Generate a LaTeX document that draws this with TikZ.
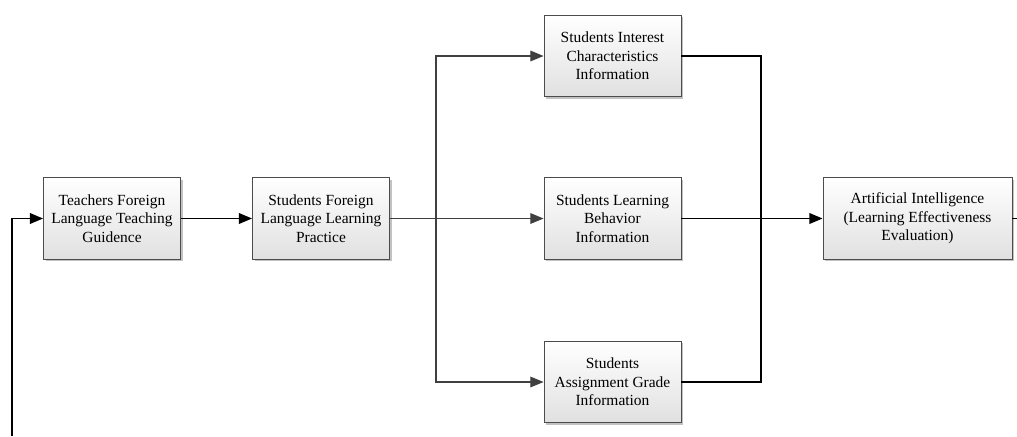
\documentclass[tikz,border=0pt]{standalone}
\usepackage{fontspec}
\setmainfont{Liberation Serif}
\usetikzlibrary{arrows.meta,shadows}

\tikzset{
  infobox/.style={draw=black!70, line width=0.6pt, top color=white, bottom color=black!12,
    minimum width=102.75pt, minimum height=61pt, align=center, inner sep=2pt,
    font=\fontsize{11.6}{13.8}\selectfont,
    drop shadow={shadow xshift=1.5pt, shadow yshift=-1.5pt, fill=black!40, opacity=0.6}},
  mainline/.style={line width=1.4pt, black},
  sideline/.style={line width=1pt, black!75},
  headed/.style={-{Triangle[length=10pt,width=8pt]}}
}

\begin{document}
\begin{tikzpicture}[x=0.75pt, y=-0.75pt]
			%%%%% START %%%%%
			\useasboundingbox (0,0) rectangle (1017,436);
			
			\node[infobox] (teach) at (112,218.5) {Teachers Foreign\\Language Teaching\\Guidence};
			\node[infobox] (practice) at (321,218.5) {Students Foreign\\Language Learning\\Practice};
			
			\node[infobox] (interest) at (612.5,56) {Students Interest\\Characteristics\\Information};
			\node[infobox] (behavior) at (612.5,218.5) {Students Learning\\Behavior\\Information};
			\node[infobox] (grade) at (612.5,382) {Students\\Assignment Grade\\Information};
			
			\node[infobox, minimum width=141.75pt] (ai) at (917.5,218.5) {Artificial Intelligence\\(Learning Effectiveness\\Evaluation)};
			
			\coordinate (fbstart) at (12,436);
			\coordinate (split) at (436,218.5);
			\coordinate (merge) at (761,218.5);
			\coordinate (exit) at (1017,218.5);
			
			\draw[mainline, headed] (fbstart) |- (teach.west);
			\draw[mainline, headed] (teach) -- (practice);
			
			\draw[sideline] (practice) -- (split);
			\draw[sideline, headed] (split) |- (interest.west);
			\draw[sideline, headed] (split) -- (behavior);
			\draw[sideline, headed] (split) |- (grade.west);
			
			\draw[line width=1.2pt] (interest.east) -| (merge);
			\draw[line width=1.2pt] (grade.east) -| (merge);
			\draw[line width=1.2pt] (behavior) -- (merge);
			\draw[mainline, headed] (merge) -- (ai);
			\draw[mainline] (ai) -- (exit);
			
			%%%%% END %%%%%
\end{tikzpicture}
\end{document}
